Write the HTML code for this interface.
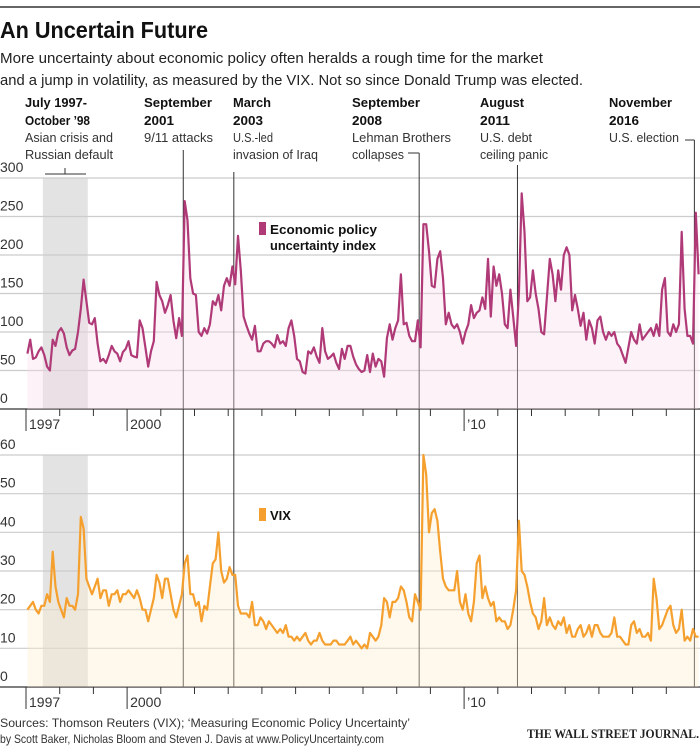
<!DOCTYPE html>
<html><head><meta charset="utf-8">
<style>
body{margin:0;background:#fff;}
svg{display:block;font-family:"Liberation Sans",sans-serif;}
</style></head>
<body>
<svg id="chart" width="700" height="750" viewBox="0 0 700 750" xmlns="http://www.w3.org/2000/svg">
<line x1="0" y1="7" x2="700" y2="7" stroke="#333" stroke-width="1.5"/>
<text x="0" y="38" font-size="23" font-weight="bold" fill="#111" textLength="208" lengthAdjust="spacingAndGlyphs">An Uncertain Future</text>
<text x="0" y="63" font-size="15" fill="#222" textLength="543" lengthAdjust="spacingAndGlyphs">More uncertainty about economic policy often heralds a rough time for the market</text>
<text x="0" y="85" font-size="15" fill="#222" textLength="583" lengthAdjust="spacingAndGlyphs">and a jump in volatility, as measured by the VIX. Not so since Donald Trump was elected.</text>
<g id="grids"></g>
<g id="events"></g>
<g id="series"></g>
<g id="axes"></g>
<g font-size="13" fill="#111">
<g font-weight="bold">
<text x="25" y="107" textLength="62" lengthAdjust="spacingAndGlyphs">July 1997-</text>
<text x="25" y="125" textLength="65" lengthAdjust="spacingAndGlyphs">October ’98</text>
<text x="144" y="107" textLength="68" lengthAdjust="spacingAndGlyphs">September</text>
<text x="144" y="125" textLength="30" lengthAdjust="spacingAndGlyphs">2001</text>
<text x="233" y="107" textLength="38" lengthAdjust="spacingAndGlyphs">March</text>
<text x="233" y="125" textLength="30" lengthAdjust="spacingAndGlyphs">2003</text>
<text x="352" y="107" textLength="68" lengthAdjust="spacingAndGlyphs">September</text>
<text x="352" y="125" textLength="30" lengthAdjust="spacingAndGlyphs">2008</text>
<text x="480" y="107" textLength="44" lengthAdjust="spacingAndGlyphs">August</text>
<text x="480" y="125" textLength="30" lengthAdjust="spacingAndGlyphs">2011</text>
<text x="609" y="107" textLength="63" lengthAdjust="spacingAndGlyphs">November</text>
<text x="609" y="125" textLength="30" lengthAdjust="spacingAndGlyphs">2016</text>
</g>
<g fill="#333">
<text x="25" y="142" textLength="88" lengthAdjust="spacingAndGlyphs">Asian crisis and</text>
<text x="25" y="159" textLength="88" lengthAdjust="spacingAndGlyphs">Russian default</text>
<text x="144" y="142" textLength="69" lengthAdjust="spacingAndGlyphs">9/11 attacks</text>
<text x="233" y="142" textLength="40" lengthAdjust="spacingAndGlyphs">U.S.-led</text>
<text x="233" y="159" textLength="85" lengthAdjust="spacingAndGlyphs">invasion of Iraq</text>
<text x="352" y="142" textLength="99" lengthAdjust="spacingAndGlyphs">Lehman Brothers</text>
<text x="352" y="159" textLength="52" lengthAdjust="spacingAndGlyphs">collapses</text>
<text x="480" y="142" textLength="52" lengthAdjust="spacingAndGlyphs">U.S. debt</text>
<text x="480" y="159" textLength="68" lengthAdjust="spacingAndGlyphs">ceiling panic</text>
<text x="609" y="142" textLength="70" lengthAdjust="spacingAndGlyphs">U.S. election</text>
</g>
</g>
<text x="0" y="727" font-size="12" fill="#333" textLength="410" lengthAdjust="spacingAndGlyphs">Sources: Thomson Reuters (VIX); ‘Measuring Economic Policy Uncertainty’</text>
<text x="0" y="743" font-size="12" fill="#333" textLength="384" lengthAdjust="spacingAndGlyphs">by Scott Baker, Nicholas Bloom and Steven J. Davis at www.PolicyUncertainty.com</text>
<text x="699" y="738" font-size="13" font-family="Liberation Serif, serif" font-weight="bold" text-anchor="end" fill="#222" textLength="172" lengthAdjust="spacingAndGlyphs">THE WALL STREET JOURNAL.</text>
</svg>
<script>
const epuValues = [
72,90,65,67,75,80,70,55,50,90,82,100,
105,98,80,70,76,78,100,130,168,140,112,110,
118,85,62,65,60,70,82,75,72,62,74,78,
88,70,68,67,115,105,80,55,75,88,165,148,
140,125,135,148,115,92,118,95,270,245,170,150,
148,100,95,105,98,110,140,135,148,128,160,170,
160,185,162,225,180,120,108,98,90,108,75,75,
85,88,88,85,80,96,85,88,82,105,115,95,
65,62,48,46,75,72,80,68,60,105,75,65,
68,72,60,52,78,65,82,82,68,58,52,48,
50,70,48,72,55,65,62,42,92,110,90,105,
115,175,110,112,95,88,88,115,80,240,240,205,
160,158,195,205,170,110,125,110,105,110,100,85,
100,110,135,118,125,128,145,130,195,120,185,160,
175,150,110,105,155,120,82,150,280,230,140,145,
180,150,130,100,97,145,195,175,140,180,155,200,
210,200,128,148,130,108,125,90,115,105,85,115,
120,100,90,100,95,100,85,80,70,60,80,100,
90,85,110,90,95,100,105,95,110,95,155,170,
100,95,110,100,110,230,130,95,95,85,255,175];
const vixValues = [
20,21,22,20,19,21,21,24,22,35,26,22,
20,18,23,21,21,20,24,44,41,28,26,24,
26,28,23,25,25,21,24,24,25,22,24,24,
25,24,23,25,23,20,20,17,20,23,29,27,
23,28,28,24,20,18,21,24,32,34,24,24,
21,22,17,21,20,26,32,33,40,30,27,28,
31,29,29,21,19,19,19,18,22,16,16,18,
17,15,17,16,15,14,15,14,16,13,13,12,
13,12,13,14,12,11,12,12,14,12,11,11,
11,12,12,11,11,11,12,13,11,12,11,10,
11,10,14,13,12,13,16,23,22,18,22,22,
23,26,25,22,18,17,24,22,20,60,55,40,
45,46,43,35,28,26,25,25,25,30,22,20,
24,19,17,22,32,34,23,26,23,21,22,17,
18,17,17,15,16,20,25,43,30,29,26,22,
19,18,15,17,23,16,18,16,15,17,16,18,
14,16,13,13,15,16,13,14,16,13,16,16,
14,13,13,13,14,18,13,13,12,11,11,16,
17,14,15,13,13,14,12,28,23,15,16,18,
20,21,16,14,15,20,12,13,12,15,13,13];
const epuTicks = [0,50,100,150,200,250,300];
const vixTicks = [0,10,20,30,40,50,60];
const yearTicks = [1997,1998,1999,2000,2001,2002,2003,2004,2005,2006,2007,2008,2009,2010,2011,2012,2013,2014,2015,2016];
const yearLabels = {1997:"1997",2000:"2000",2010:"’10"};
const eventDates = [2001+8/12, 2003+2/12, 2008+8/12, 2011+7/12, 2016+10/12];
const eventNames = ["event-line-sep-2001","event-line-mar-2003","event-line-sep-2008","event-line-aug-2011","event-line-nov-2016"];
const eventTops = [150,172,153,165,140];

const NS="http://www.w3.org/2000/svg";
const X0=26, PXY=33.7;
function x(t){return X0+(t-1997)*PXY;}
function yTop(v){return 409-v*(231/300);}
function yBot(v){return 687-v*(232/60);}
function mk(tag,attrs,parent){const e=document.createElementNS(NS,tag);for(const k in attrs)e.setAttribute(k,attrs[k]);parent.appendChild(e);return e;}
const grids=document.getElementById('grids'),events=document.getElementById('events'),series=document.getElementById('series'),axes=document.getElementById('axes');

let r=mk('rect',{x:x(1997.5),y:yTop(300),width:x(1998+10/12)-x(1997.5),height:yTop(0)-yTop(300),fill:'#e3e3e3'},grids);


r=mk('rect',{x:x(1997.5),y:yBot(60),width:x(1998+10/12)-x(1997.5),height:yBot(0)-yBot(60),fill:'#e3e3e3'},grids);



function panel(vals,ticks,yf,color,fill,name){
  ticks.forEach(t=>{
    const g=mk('line',{x1:0,x2:700,y1:yf(t),y2:yf(t),stroke:t===0?'#333':'#ccc','stroke-width':t===0?1.3:1.2},grids);
    
    
    const lb=mk('text',{x:0,y:yf(t)-6,'font-size':14,fill:'#333'},axes);lb.textContent=t;
    
    
  });
  const pts=vals.map((v,i)=>[x(1997+i/12+1/24),yf(v)]);
  let d='M'+pts.map(p=>p[0].toFixed(1)+','+p[1].toFixed(1)).join('L');
  const a=mk('path',{d:d+'L'+pts[pts.length-1][0].toFixed(1)+','+yf(0)+'L'+pts[0][0].toFixed(1)+','+yf(0)+'Z',fill:fill,opacity:0.35},series);
  
  
  const l=mk('path',{d:d,fill:'none',stroke:color,'stroke-width':2.2,'stroke-linejoin':'round'},series);
  
  
  yearTicks.forEach(yr=>{
    const big=yearLabels[yr]!==undefined;
    const tk=mk('line',{x1:x(yr),x2:x(yr),y1:yf(0),y2:yf(0)+(big?22:7),stroke:'#333','stroke-width':1},axes);
    
    
    if(big){const tl=mk('text',{x:x(yr)+3,y:yf(0)+20,'font-size':14,fill:'#333'},axes);tl.textContent=yearLabels[yr];
      
      }
  });
}
panel(epuValues,epuTicks,yTop,'#b03a78','#f5d9e8','epu');
panel(vixValues,vixTicks,yBot,'#f5a02e','#fbeccc','vix');

eventDates.forEach((t,i)=>{
  const el=mk('line',{x1:x(t),x2:x(t),y1:eventTops[i],y2:yBot(0),stroke:'#333','stroke-width':1},events);
  
  
});
let h=mk('path',{d:'M408,153H'+x(eventDates[2]).toFixed(1)+'M685,140H'+x(eventDates[4]).toFixed(1)+'M45,174H86M65,174V168',stroke:'#333',fill:'none','stroke-width':1},events);



let lg=mk('rect',{x:259,y:222,width:7,height:13,fill:'#b03a78'},axes);


let lt=mk('text',{x:270,y:234,'font-size':13,'font-weight':'bold',fill:'#111',textLength:107,lengthAdjust:'spacingAndGlyphs'},axes);lt.textContent='Economic policy';


lt=mk('text',{x:270,y:250,'font-size':13,'font-weight':'bold',fill:'#111',textLength:106,lengthAdjust:'spacingAndGlyphs'},axes);lt.textContent='uncertainty index';


lg=mk('rect',{x:259,y:508,width:7,height:13,fill:'#f5a02e'},axes);


lt=mk('text',{x:270,y:520,'font-size':13,'font-weight':'bold',fill:'#111'},axes);lt.textContent='VIX';


</script>
</body></html>
